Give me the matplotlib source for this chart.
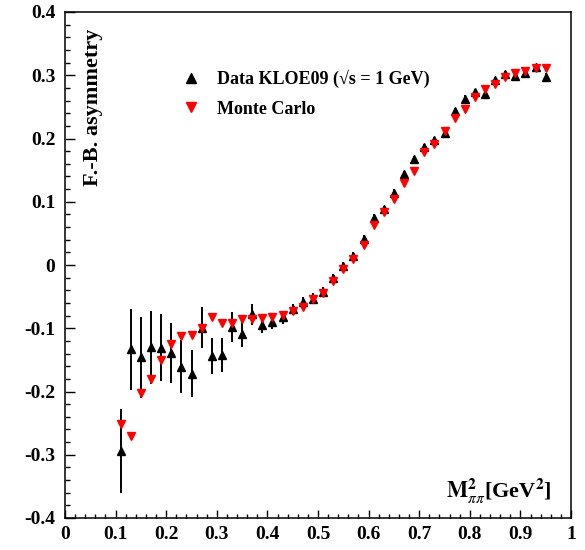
import matplotlib
matplotlib.use("Agg")
import matplotlib.pyplot as plt
from matplotlib.lines import Line2D
from matplotlib.ticker import MultipleLocator, FixedLocator

plt.rcParams['font.family'] = ['Liberation Serif', 'DejaVu Serif']
plt.rcParams['mathtext.fontset'] = 'stix'

# M^2_pipi bin centres [GeV^2]
m2 = [0.11, 0.13, 0.15, 0.17, 0.19, 0.21, 0.23, 0.25, 0.27, 0.29,
      0.31, 0.33, 0.35, 0.37, 0.39, 0.41, 0.43, 0.45, 0.47, 0.49,
      0.51, 0.53, 0.55, 0.57, 0.59, 0.61, 0.63, 0.65, 0.67, 0.69,
      0.71, 0.73, 0.75, 0.77, 0.79, 0.81, 0.83, 0.85, 0.87, 0.89,
      0.91, 0.93, 0.95]

# KLOE09 forward-backward asymmetry
data_fb = [-0.294, -0.133, -0.146, -0.130, -0.131, -0.139, -0.161, -0.172, -0.099, -0.144,
           -0.142, -0.098, -0.109, -0.078, -0.095, -0.090, -0.083, -0.070, -0.059, -0.053,
           -0.042, -0.021, -0.002, 0.014, 0.041, 0.075, 0.088, 0.114, 0.144, 0.167,
           0.186, 0.198, 0.208, 0.244, 0.263, 0.274, 0.271, 0.293, 0.302, 0.299,
           0.303, 0.313, 0.298]
data_err = [0.066, 0.064, 0.064, 0.058, 0.053, 0.047, 0.042, 0.037, 0.032, 0.029,
            0.027, 0.023, 0.020, 0.017, 0.013, 0.011, 0.010, 0.009, 0.009, 0.008,
            0.007, 0.007, 0.006, 0.006, 0.006, 0.006, 0.006, 0.006, 0.005, 0.005,
            0.005, 0.005, 0.005, 0.005, 0.005, 0.005, 0.005, 0.005, 0.005, 0.005,
            0.005, 0.005, 0.005]

# Monte Carlo prediction
mc_fb = [-0.251, -0.271, -0.203, -0.181, -0.150, -0.125, -0.113, -0.111, -0.099, -0.082,
         -0.091, -0.091, -0.086, -0.085, -0.084, -0.083, -0.079, -0.072, -0.067, -0.054,
         -0.045, -0.025, -0.007, 0.010, 0.031, 0.063, 0.084, 0.104, 0.130, 0.149,
         0.178, 0.192, 0.212, 0.232, 0.247, 0.265, 0.278, 0.286, 0.297, 0.303,
         0.306, 0.311, 0.311]

x_ticks = [0, 0.1, 0.2, 0.3, 0.4, 0.5, 0.6, 0.7, 0.8, 0.9, 1]
x_tick_labels = ['0', '0.1', '0.2', '0.3', '0.4', '0.5', '0.6', '0.7', '0.8', '0.9', '1']
y_ticks = [-0.4, -0.3, -0.2, -0.1, 0, 0.1, 0.2, 0.3, 0.4]
y_tick_labels = ['-0.4', '-0.3', '-0.2', '-0.1', '0', '0.1', '0.2', '0.3', '0.4']

fig = plt.figure(figsize=(5.85, 5.5), dpi=100)
ax = fig.add_axes([65 / 585, 32 / 550, 506 / 585, 506 / 550])

ax.errorbar(m2, data_fb, yerr=data_err, fmt='^', color='black', ms=5.5,
            elinewidth=1.4, capsize=0, zorder=3)
ax.plot(m2, mc_fb, 'v', color='red', ms=5.5, zorder=4)

ax.set_xlim(0, 1)
ax.set_ylim(-0.4, 0.4)
ax.xaxis.set_major_locator(FixedLocator(x_ticks))
ax.set_xticklabels(x_tick_labels)
ax.yaxis.set_major_locator(FixedLocator(y_ticks))
ax.set_yticklabels(y_tick_labels)
ax.xaxis.set_minor_locator(MultipleLocator(0.02))
ax.yaxis.set_minor_locator(MultipleLocator(0.02))

ax.tick_params(axis='both', which='both', direction='in', top=False, right=False)
ax.tick_params(axis='y', which='major', length=7, width=1, pad=7)
ax.tick_params(axis='y', which='minor', length=3.5, width=1)
ax.tick_params(axis='x', which='major', length=6, width=1, pad=6)
ax.tick_params(axis='x', which='minor', length=3, width=1)
for lbl in ax.get_xticklabels() + ax.get_yticklabels():
    lbl.set_fontsize(14)
    lbl.set_fontweight('bold')
for sp in ax.spines.values():
    sp.set_linewidth(1.1)

ax.text(0.055, 0.968, 'F.-B. asymmetry', transform=ax.transAxes, rotation=90,
        ha='center', va='top', fontsize=16, fontweight='bold')
ax.text(0.962, 0.040, r'$\mathbf{M}^{\mathbf{2}}_{\pi\pi}$[GeV$^{\mathbf{2}}$]',
        transform=ax.transAxes, ha='right', va='baseline', fontsize=16, fontweight='bold')

handles = [Line2D([], [], ls='none', marker='^', color='black', ms=7.5),
           Line2D([], [], ls='none', marker='v', color='red', ms=7.5)]
labels = ['Data KLOE09 (\u221as = 1 GeV)', 'Monte Carlo']
leg = ax.legend(handles, labels, loc='upper left', bbox_to_anchor=(0.2, 0.918),
                frameon=False, handlelength=1.0, handletextpad=0.9, labelspacing=0.7,
                prop={'weight': 'bold', 'size': 13})

fig.savefig('out.png', dpi=100)
